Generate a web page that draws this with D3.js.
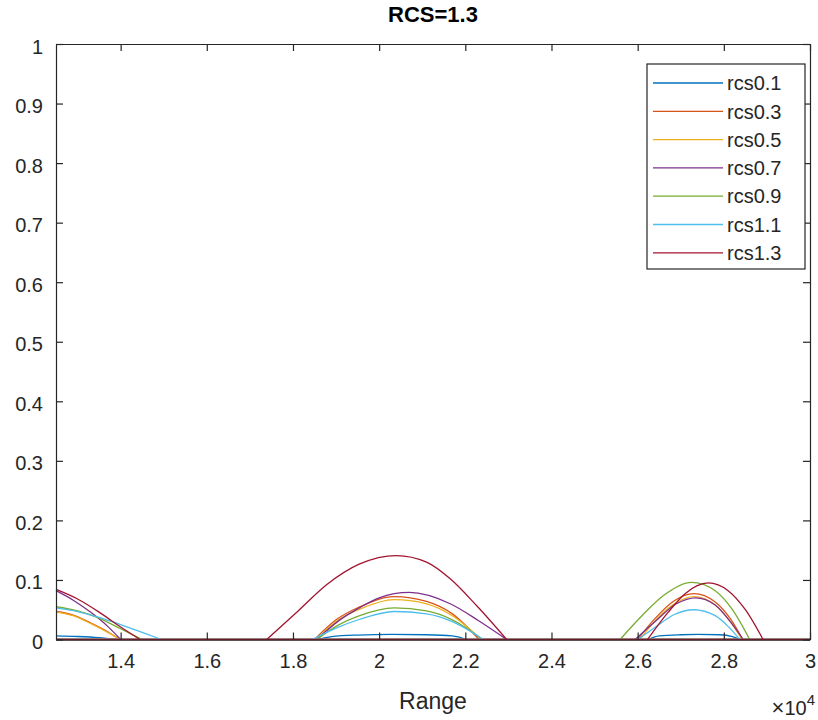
<!DOCTYPE html>
<html>
<head>
<meta charset="utf-8">
<script src="https://cdn.jsdelivr.net/npm/d3@7/dist/d3.min.js"></script>
<style>
  html, body { margin: 0; padding: 0; background: #fff; }
  svg { display: block; font-family: "Liberation Sans", Arial, Helvetica, sans-serif; }
</style>
</head>
<body>
<svg id="chart" width="818" height="720"></svg>
<script>
// ---------- data ----------
const titleText = "RCS=1.3";
const xLabel = "Range";
const seriesNames = ["rcs0.1", "rcs0.3", "rcs0.5", "rcs0.7", "rcs0.9", "rcs1.1", "rcs1.3"];
const seriesColors = ["#0072BD", "#D95319", "#EDB120", "#7E2F8E", "#77AC30", "#4DBEEE", "#A2142F"];
const xDomain = [12500, 30000];
const yDomain = [0, 1];
const xTicks = [14000, 16000, 18000, 20000, 22000, 24000, 26000, 28000, 30000];
const xTickLabels = ["1.4", "1.6", "1.8", "2", "2.2", "2.4", "2.6", "2.8", "3"];
const yTicks = [0, 0.1, 0.2, 0.3, 0.4, 0.5, 0.6, 0.7, 0.8, 0.9, 1];
const yTickLabels = ["0", "0.1", "0.2", "0.3", "0.4", "0.5", "0.6", "0.7", "0.8", "0.9", "1"];

// each series: lobes of [range, value]; value is 0 everywhere else
const rcs01 = [
  [[12500, 0.006], [13000, 0.005], [13500, 0.003], [13900, 0]],
  [[18550, 0], [18900, 0.005], [19500, 0.0075], [20300, 0.0085], [21100, 0.008], [21700, 0.006], [22030, 0]],
  [[26240, 0], [26500, 0.006], [27000, 0.008], [27400, 0.0085], [27900, 0.008], [28200, 0.005], [28370, 0]]
];
const rcs03 = [
  [[12500, 0.047], [12900, 0.041], [13300, 0.028], [13700, 0.013], [13980, 0]],
  [[18500, 0], [19000, 0.033], [19550, 0.055], [20350, 0.072], [21100, 0.064], [21700, 0.043], [22320, 0]],
  [[26000, 0], [26400, 0.035], [26850, 0.065], [27300, 0.077], [27800, 0.063], [28150, 0.035], [28440, 0]]
];
const rcs05 = [
  [[12500, 0.046], [12900, 0.040], [13300, 0.027], [13700, 0.012], [14000, 0]],
  [[18550, 0], [19000, 0.030], [19550, 0.051], [20350, 0.067], [21100, 0.060], [21700, 0.040], [22380, 0]],
  [[26050, 0], [26450, 0.035], [26900, 0.062], [27300, 0.072], [27800, 0.058], [28150, 0.030], [28420, 0]]
];
const rcs07 = [
  [[12500, 0.082], [12900, 0.066], [13300, 0.046], [13700, 0.022], [14000, 0]],
  [[18550, 0], [19090, 0.033], [19560, 0.054], [20000, 0.070], [20700, 0.079], [21650, 0.060], [22300, 0.032], [22960, 0]],
  [[25940, 0], [26400, 0.030], [26900, 0.060], [27350, 0.070], [27800, 0.058], [28150, 0.030], [28450, 0]]
];
const rcs09 = [
  [[12500, 0.055], [13000, 0.048], [13500, 0.036], [14000, 0.018], [14500, 0]],
  [[18550, 0], [19000, 0.022], [19550, 0.040], [20350, 0.053], [21100, 0.048], [21700, 0.033], [22400, 0]],
  [[25590, 0], [26100, 0.040], [26600, 0.074], [27250, 0.096], [27800, 0.082], [28200, 0.050], [28600, 0]]
];
const rcs11 = [
  [[12500, 0.053], [13000, 0.047], [13500, 0.037], [14000, 0.025], [14500, 0.012], [14950, 0]],
  [[18450, 0], [19000, 0.019], [19550, 0.034], [20350, 0.047], [21100, 0.043], [21700, 0.030], [22420, 0]],
  [[26000, 0], [26400, 0.020], [26850, 0.042], [27300, 0.050], [27800, 0.040], [28100, 0.022], [28370, 0]]
];
const rcs13 = [
  [[12500, 0.084], [13000, 0.068], [13500, 0.046], [14000, 0.021], [14450, 0]],
  [[17390, 0], [18120, 0.048], [18780, 0.092], [19550, 0.127], [20400, 0.141], [21100, 0.130], [21650, 0.102], [22260, 0.057], [22960, 0]],
  [[26230, 0], [26700, 0.045], [27100, 0.077], [27640, 0.095], [28100, 0.082], [28500, 0.050], [28910, 0]]
];
const seriesData = [rcs01, rcs03, rcs05, rcs07, rcs09, rcs11, rcs13];

// ---------- layout ----------
const svg = d3.select("#chart");
const plotL = 56, plotR = 810, plotT = 44, plotB = 639.5;
const axisColor = "#262626";
const x = d3.scaleLinear().domain(xDomain).range([plotL, plotR]);
const y = d3.scaleLinear().domain(yDomain).range([plotB, plotT]);

// ---------- lines ----------
const line = d3.line().x(d => x(d[0])).y(d => y(d[1])).curve(d3.curveMonotoneX);
const gLines = svg.append("g");
seriesData.forEach((lobes, i) => {
  gLines.append("line")
    .attr("x1", x(xDomain[0])).attr("x2", x(xDomain[1]))
    .attr("y1", y(0)).attr("y2", y(0))
    .attr("stroke", seriesColors[i]).attr("stroke-width", 1.3);
  lobes.forEach(lobe => {
    gLines.append("path")
      .attr("d", line(lobe))
      .attr("fill", "none")
      .attr("stroke", seriesColors[i])
      .attr("stroke-width", 1.3);
  });
});

// ---------- axes ----------
const tickFont = 20;
const tickLen = 7;
const xAxisB = d3.axisBottom(x).tickValues(xTicks).tickFormat((d, i) => xTickLabels[i]).tickSizeInner(-tickLen).tickSizeOuter(0).tickPadding(14);
const xAxisT = d3.axisTop(x).tickValues(xTicks).tickFormat("").tickSizeInner(-tickLen).tickSizeOuter(0);
const yAxisL = d3.axisLeft(y).tickValues(yTicks).tickFormat((d, i) => yTickLabels[i]).tickSizeInner(-tickLen).tickSizeOuter(0).tickPadding(13);
const yAxisR = d3.axisRight(y).tickValues(yTicks).tickFormat("").tickSizeInner(-tickLen).tickSizeOuter(0);

function style(g) {
  g.select(".domain").attr("stroke", axisColor).attr("stroke-width", 1.2);
  g.selectAll(".tick line").attr("stroke", axisColor).attr("stroke-width", 1.2);
  g.selectAll(".tick text").attr("fill", axisColor).style("font-size", tickFont + "px")
    .style("font-family", "'Liberation Sans', Arial, sans-serif");
}
svg.append("g").attr("transform", `translate(0,${plotB})`).call(xAxisB).call(style);
svg.append("g").attr("transform", `translate(0,${plotT})`).call(xAxisT).call(style);
svg.append("g").attr("transform", `translate(${plotL},0)`).call(yAxisL).call(style)
  .selectAll(".tick text").attr("dy", "0.45em");
svg.append("g").attr("transform", `translate(${plotR},0)`).call(yAxisR).call(style);

// ---------- title & labels ----------
svg.append("text").attr("x", (plotL + plotR) / 2).attr("y", 22)
  .attr("text-anchor", "middle").attr("fill", "#000")
  .style("font-size", "22px").style("font-weight", "bold").text(titleText);

svg.append("text").attr("x", (plotL + plotR) / 2).attr("y", 709)
  .attr("text-anchor", "middle").attr("fill", axisColor)
  .style("font-size", "23px").text(xLabel);

const expo = svg.append("text").attr("x", 815).attr("y", 715)
  .attr("text-anchor", "end").attr("fill", axisColor).style("font-size", "20px");
expo.append("tspan").style("font-size", "22px").text("\u00D7");
expo.append("tspan").text("10");
expo.append("tspan").attr("dy", -10).style("font-size", "15px").text("4");

// ---------- legend ----------
const lgX = 647, lgY = 64, lgW = 158, lgH = 205;
const lg = svg.append("g");
lg.append("rect").attr("x", lgX).attr("y", lgY).attr("width", lgW).attr("height", lgH)
  .attr("fill", "#fff").attr("stroke", axisColor).attr("stroke-width", 1.2);
seriesNames.forEach((name, i) => {
  const cy = 83 + i * 28.3;
  lg.append("line").attr("x1", 653).attr("x2", 723).attr("y1", cy).attr("y2", cy)
    .attr("stroke", seriesColors[i]).attr("stroke-width", 1.3);
  lg.append("text").attr("x", 727).attr("y", cy).attr("dy", "0.36em")
    .attr("fill", axisColor).style("font-size", "20px").text(name);
});
</script>
</body>
</html>
